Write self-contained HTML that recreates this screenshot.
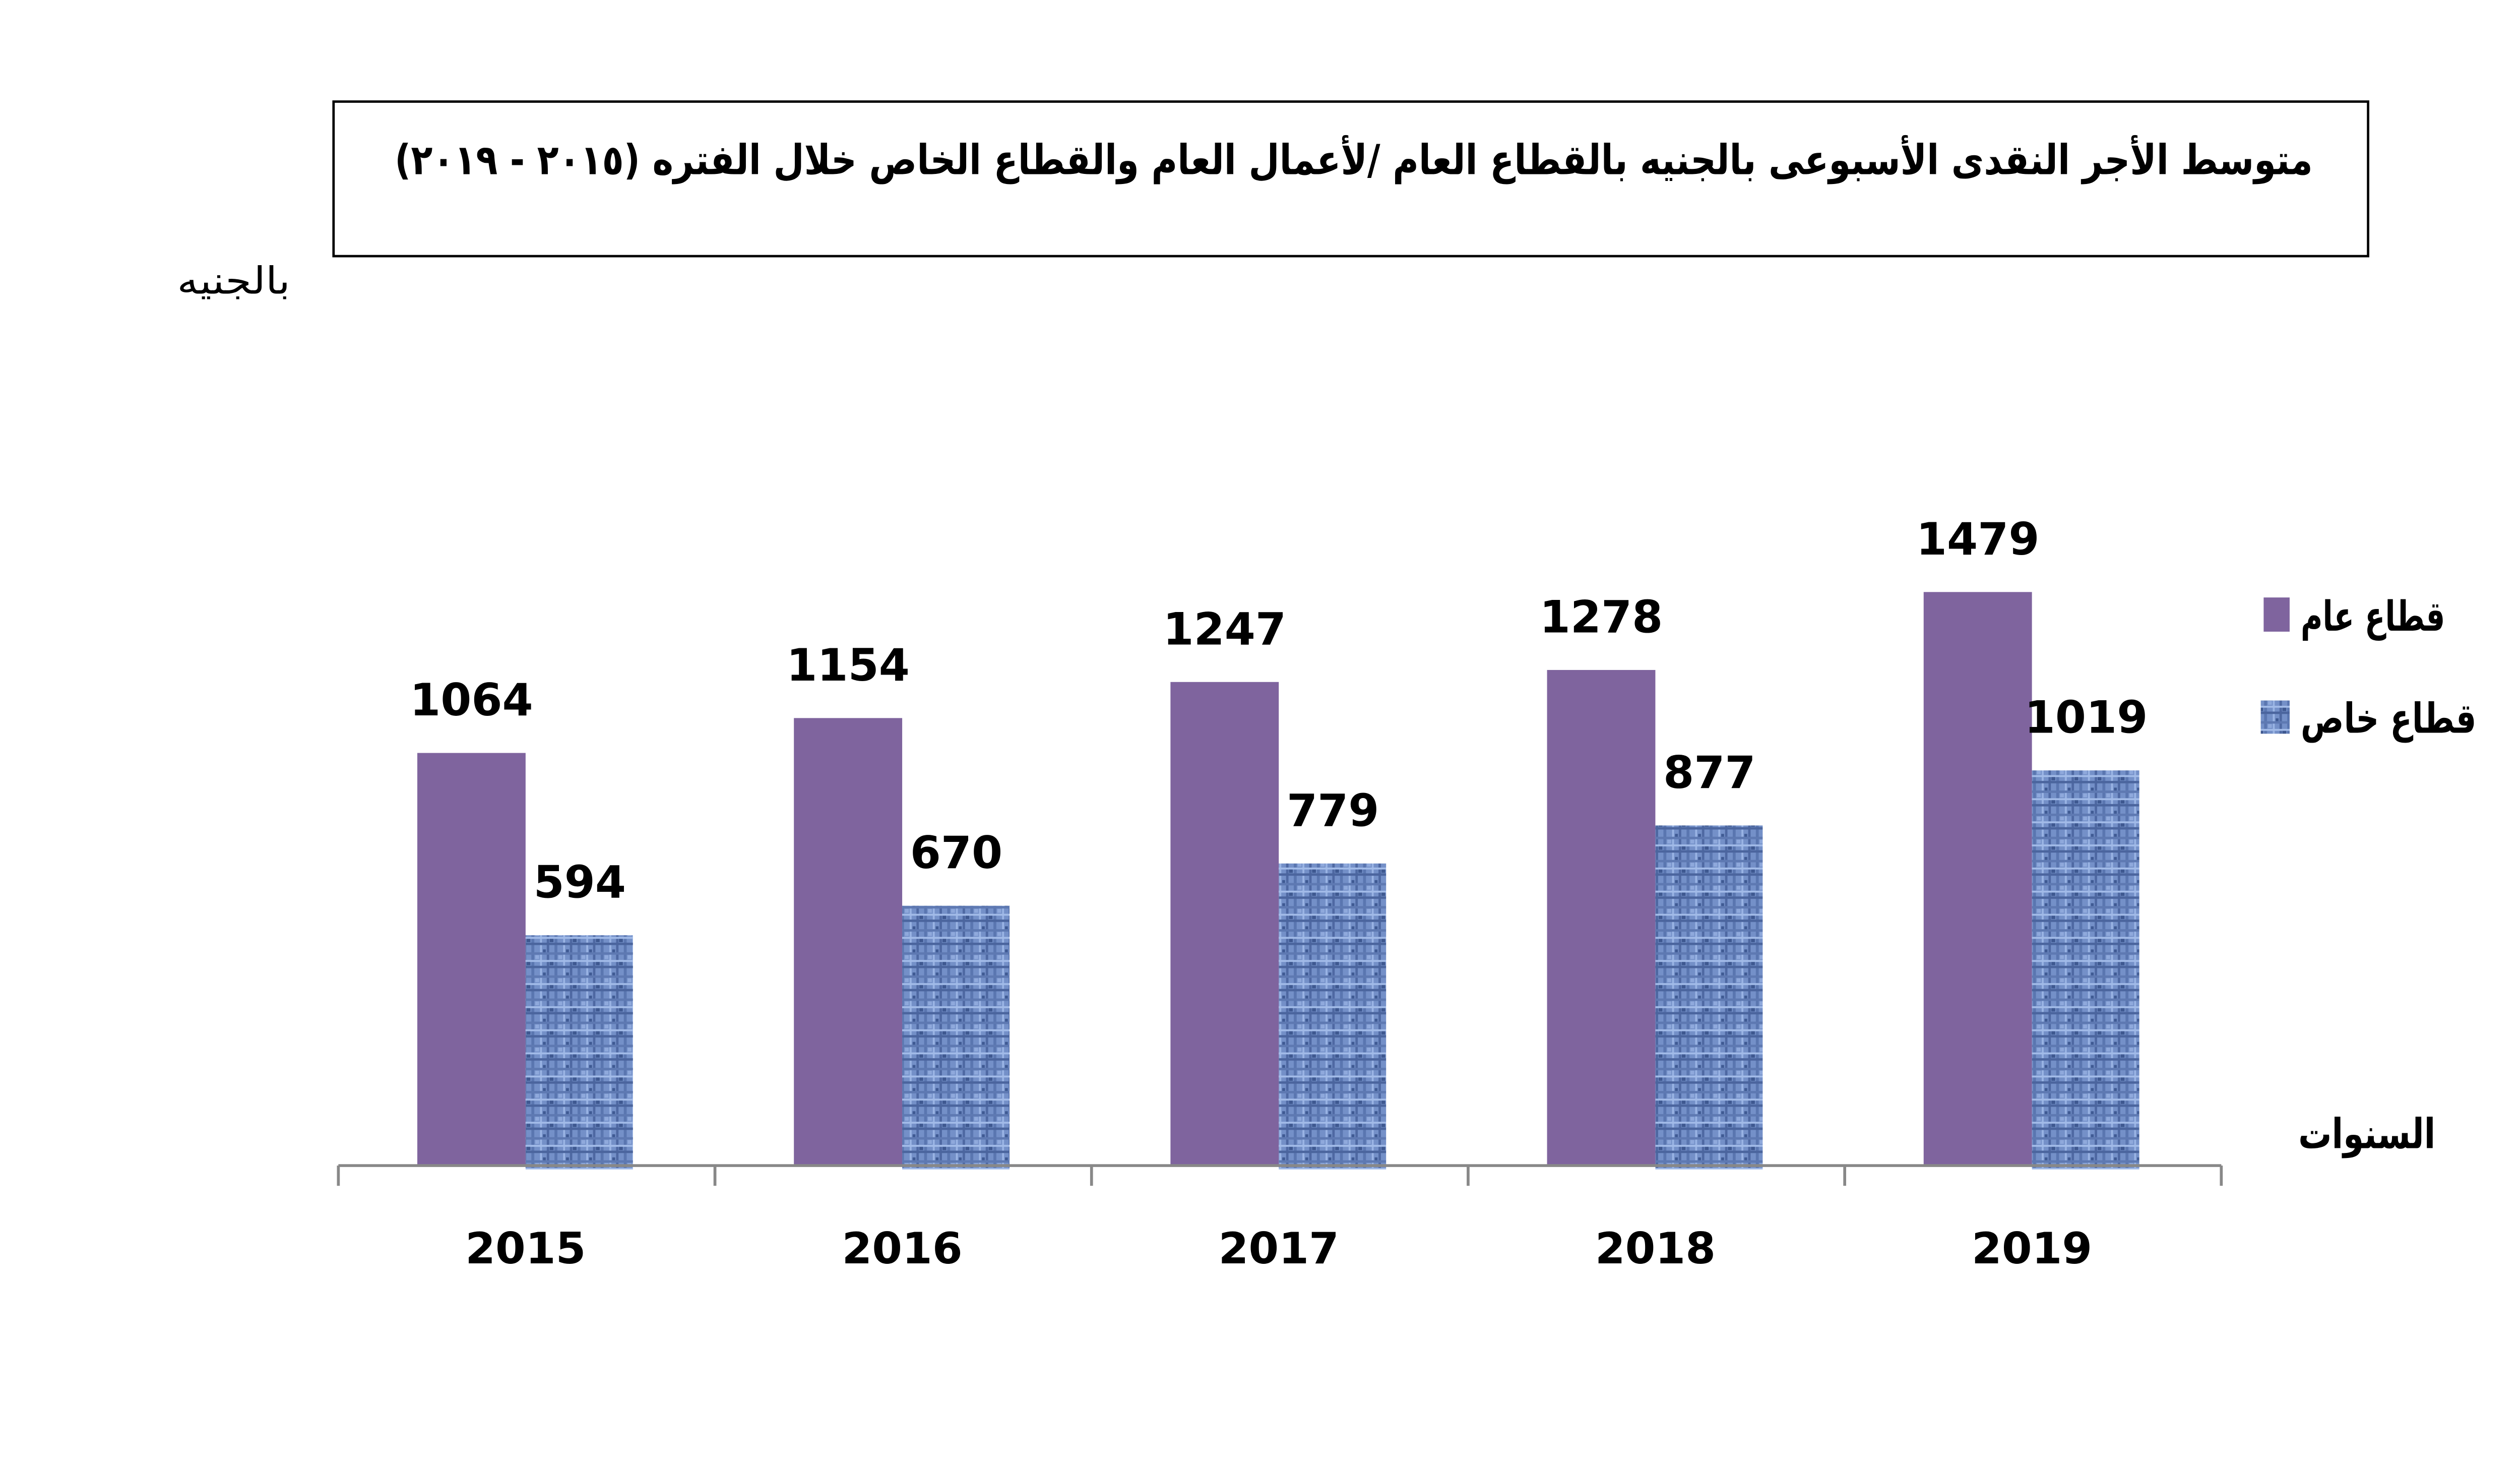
<!DOCTYPE html>
<html><head><meta charset="utf-8"><style>
html,body{margin:0;padding:0;background:#fff;}
svg{display:block;}
text{font-family:"DejaVu Sans","Liberation Sans",sans-serif;}
</style></head><body>
<svg id="chart" width="5224" height="2904" viewBox="0 0 5224 2904" xmlns="http://www.w3.org/2000/svg">
<defs>
<pattern id="tex" width="48" height="48" patternUnits="userSpaceOnUse">
<rect width="48" height="48" fill="#7490c8"/>
<rect x="0" y="0" width="6" height="48" fill="#5a76b0"/>
<rect x="18" y="0" width="4" height="48" fill="#9ab4e4"/>
<rect x="32" y="0" width="5" height="48" fill="#4e68a2"/>
<rect x="0" y="10" width="48" height="5" fill="#5e79b2"/>
<rect x="0" y="26" width="48" height="4" fill="#a2bbe8"/>
<rect x="0" y="38" width="48" height="5" fill="#4b659e"/>
<rect x="8" y="16" width="8" height="8" fill="#8fa9dc"/>
<rect x="38" y="30" width="8" height="7" fill="#3e5890"/>
<rect x="24" y="4" width="6" height="6" fill="#3f5a93"/>
</pattern>
</defs>
<g transform="scale(0.955)">
<rect x="693" y="211" width="4227" height="321" fill="#fff" stroke="#000" stroke-width="5"/>
<text x="4805" y="362" direction="rtl" text-anchor="start" font-size="86" font-weight="bold" textLength="3985" lengthAdjust="spacingAndGlyphs">متوسط الأجر النقدى الأسبوعى بالجنيه بالقطاع العام /لأعمال العام والقطاع الخاص خلال الفتره (٢٠١٥ - ٢٠١٩)</text>
<text x="603" y="610" direction="rtl" text-anchor="start" font-size="78" textLength="235" lengthAdjust="spacingAndGlyphs">بالجنيه</text>
<text x="5060" y="2385" direction="rtl" text-anchor="start" font-size="86" font-weight="bold" textLength="285" lengthAdjust="spacingAndGlyphs">السنوات</text>
<g>
<rect x="4703" y="1241" width="54" height="71" fill="#7f649e"/>
<text x="5080" y="1310" direction="rtl" text-anchor="start" font-size="86" font-weight="bold" textLength="300" lengthAdjust="spacingAndGlyphs">قطاع عام</text>
<rect x="4697" y="1455" width="60" height="69" fill="url(#tex)"/>
<text x="5145" y="1522" direction="rtl" text-anchor="start" font-size="86" font-weight="bold" textLength="365" lengthAdjust="spacingAndGlyphs">قطاع خاص</text>
</g>
<g id="plot"></g>
</g>
</svg>
<script>
const years = ["2015","2016","2017","2018","2019"];
const publicSector = [1064,1154,1247,1278,1479];
const privateSector = [594,670,779,877,1019];

const ns = "http://www.w3.org/2000/svg";
const plot = document.getElementById("plot");
const x0 = 703, x1 = 4615, baseY = 2421, pxPerUnit = 0.8055;
const catW = (x1 - x0) / years.length;
const barW = 225, offset = 164;
function yScale(v){ return baseY - v * pxPerUnit; }
function mk(tag, attrs){ const e = document.createElementNS(ns, tag); for (const k in attrs) e.setAttribute(k, attrs[k]); plot.appendChild(e); return e; }

years.forEach((yr, i) => {
  const cx = x0 + i * catW;
  const pL = cx + offset;
  const pTop = yScale(publicSector[i]);
  const b1 = mk("rect", {x: pL, y: pTop, width: barW, height: baseY - pTop, fill: "#7f649e"});
  
  
  const t1 = mk("text", {x: pL + barW/2, y: pTop - 78, "text-anchor": "middle", "font-size": "92", "font-weight": "bold"});
  t1.textContent = publicSector[i];
  
  
  const bL = pL + barW;
  const bTop = yScale(privateSector[i]);
  const b2 = mk("rect", {x: bL, y: bTop, width: barW - 2, height: baseY - bTop + 8, fill: "url(#tex)"});
  
  
  const t2 = mk("text", {x: bL + barW/2, y: bTop - 78, "text-anchor": "middle", "font-size": "92", "font-weight": "bold"});
  t2.textContent = privateSector[i];
  
  
  const yl = mk("text", {x: pL + barW, y: 2624, "text-anchor": "middle", "font-size": "90", "font-weight": "bold"});
  yl.textContent = yr;
  
  
});
const ax = mk("line", {x1: x0, y1: baseY, x2: x1, y2: baseY, stroke: "#888", "stroke-width": "6"});


for (let i = 0; i <= years.length; i++) {
  const tx = x0 + i * catW;
  const tk = mk("line", {x1: tx, y1: baseY, x2: tx, y2: 2463, stroke: "#888", "stroke-width": "6"});
  
  
}
</script>
</body></html>
